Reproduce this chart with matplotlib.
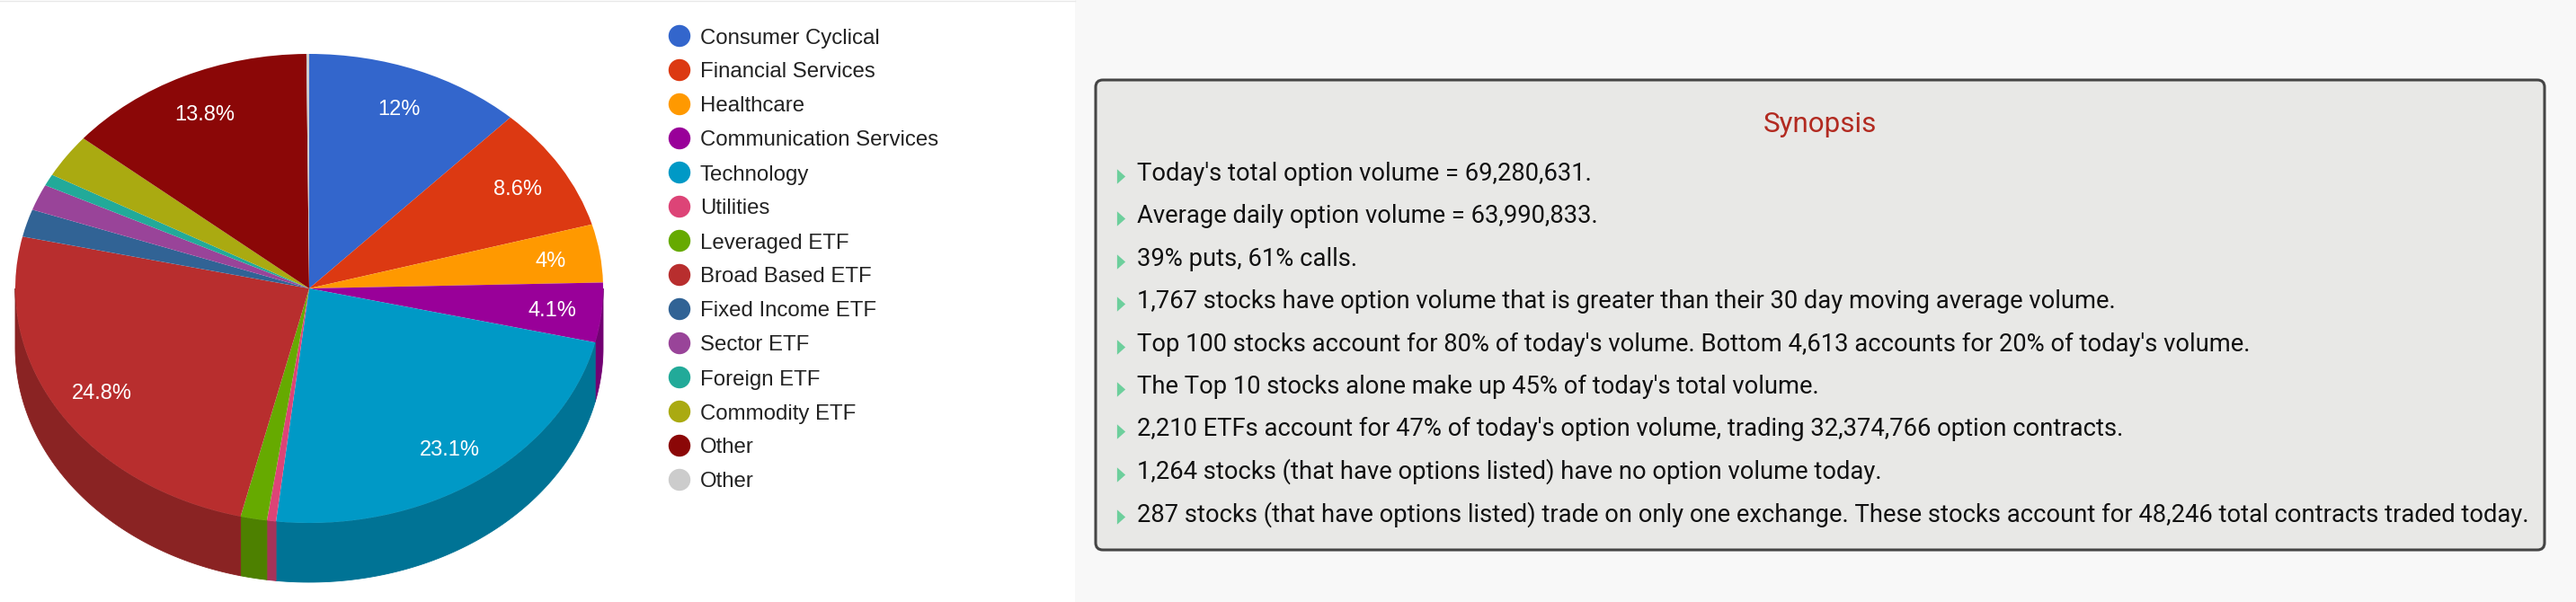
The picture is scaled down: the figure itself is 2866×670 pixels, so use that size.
import matplotlib
matplotlib.use('Agg')
import matplotlib.pyplot as plt
from matplotlib.patches import Rectangle, FancyBboxPatch
from matplotlib.colors import to_rgb
import numpy as np

# ---------------- data ----------------
categories = ["Consumer Cyclical", "Financial Services", "Healthcare",
              "Communication Services", "Technology", "Utilities",
              "Leveraged ETF", "Broad Based ETF", "Fixed Income ETF",
              "Sector ETF", "Foreign ETF", "Commodity ETF", "Other", "Other"]
values = [12.0, 8.6, 4.0, 4.1, 23.1, 0.5, 1.45, 24.8, 1.9, 1.8, 0.8, 3.0, 13.8, 0.15]
colors = ["#3366cc", "#dc3912", "#ff9900", "#990099", "#0099c6", "#dd4477",
          "#66aa00", "#b82e2e", "#316395", "#994499", "#22aa99", "#aaaa11",
          "#8b0707", "#cccccc"]

synopsis_title = "Synopsis"
synopsis_lines = [
    "Today's total option volume = 69,280,631.",
    "Average daily option volume = 63,990,833.",
    "39% puts, 61% calls.",
    "1,767 stocks have option volume that is greater than their 30 day moving average volume.",
    "Top 100 stocks account for 80% of today's volume. Bottom 4,613 accounts for 20% of today's volume.",
    "The Top 10 stocks alone make up 45% of today's total volume.",
    "2,210 ETFs account for 47% of today's option volume, trading 32,374,766 option contracts.",
    "1,264 stocks (that have options listed) have no option volume today.",
    "287 stocks (that have options listed) trade on only one exchange. These stocks account for 48,246 total contracts traded today.",
]

# ---------------- figure ----------------
W, H = 2866, 670
fig = plt.figure(figsize=(W / 100, H / 100), dpi=100)
fig.patch.set_facecolor('white')
ax = fig.add_axes([0, 0, 1, 1])
ax.set_xlim(0, W)
ax.set_ylim(H, 0)
ax.axis('off')

# right panel background and synopsis box
ax.add_patch(Rectangle((1196, 0), W - 1196, H, fc='#f8f8f8', ec='none', zorder=0))
ax.plot([0, 1196], [0.5, 0.5], color='#e8e8e8', lw=1, zorder=0.5)
ax.add_patch(FancyBboxPatch((1219, 89), 1612, 523,
                            boxstyle='round,pad=0,rounding_size=8',
                            fc='#e8e8e6', ec='#454545', lw=2.2, zorder=1))

ax.text(2025, 147, synopsis_title, fontsize=22.6, family='Roboto',
        color='#b22a20', ha='center', va='baseline', zorder=3)

line_y0, line_dy = 201, 47.4
ys = line_y0 + line_dy * np.arange(len(synopsis_lines))
tri = [(-0.5625, -1.0), (0.5625, 0.0), (-0.5625, 1.0)]
ax.scatter(np.full(len(ys), 1247.5), ys - 5, marker=tri, s=140,
           c='#6dcf9c', linewidths=0, zorder=3)
for y, line in zip(ys, synopsis_lines):
    ax.text(1265, y, line, fontsize=19.75, family='Roboto', color='#111111',
            ha='left', va='baseline', zorder=3)

# legend
leg_y = 40 + 38 * np.arange(len(categories))
ax.scatter(np.full(len(categories), 756), leg_y, s=310, c=colors,
           marker='o', linewidths=0, zorder=3)
for y, lab in zip(leg_y, categories):
    ax.text(779, y, lab, fontsize=17.3, family='Liberation Sans',
            color='#222222', ha='left', va='center_baseline', zorder=3)

# ---------------- 3D pie ----------------
cx, cy, rx, ry = 344, 321, 327, 261
depth = 66 / ry
xl = 1.04
ylo, yhi = -1.3, 1.05
axp = fig.add_axes([(cx - xl * rx) / W, (H - (cy - ylo * ry)) / H,
                    2 * xl * rx / W, (yhi - ylo) * ry / H])
wedges, _ = axp.pie(values, colors=colors, startangle=90, counterclock=False,
                    radius=1, wedgeprops=dict(linewidth=0, edgecolor='none'))
axp.set_aspect('auto')
axp.set_xlim(-xl, xl)
axp.set_ylim(ylo, yhi)
axp.axis('off')

for w, col in zip(wedges, colors):
    t1, t2 = w.theta1, w.theta2
    dark = tuple(0.75 * c for c in to_rgb(col))
    for k in range(-2, 2):
        a = max(t1, 180 + 360 * k)
        b = min(t2, 360 + 360 * k)
        if b > a:
            t = np.radians(np.linspace(a, b, 80))
            xs = np.concatenate([np.cos(t), np.cos(t[::-1])])
            yv = np.concatenate([np.sin(t), np.sin(t[::-1]) - depth])
            axp.fill(xs, yv, color=dark, lw=0.6, ec=dark, zorder=0.5)

total = sum(values)
for w, v in zip(wedges, values):
    pct = v / total * 100
    if pct < 3.5:
        continue
    mid = np.radians((w.theta1 + w.theta2) / 2)
    txt = f"{pct:.1f}".rstrip('0').rstrip('.') + '%'
    axp.text(0.83 * np.cos(mid), 0.83 * np.sin(mid), txt, fontsize=17,
             family='Liberation Sans', color='white', ha='center',
             va='center_baseline', zorder=5)

fig.savefig('out.png', dpi=100)
